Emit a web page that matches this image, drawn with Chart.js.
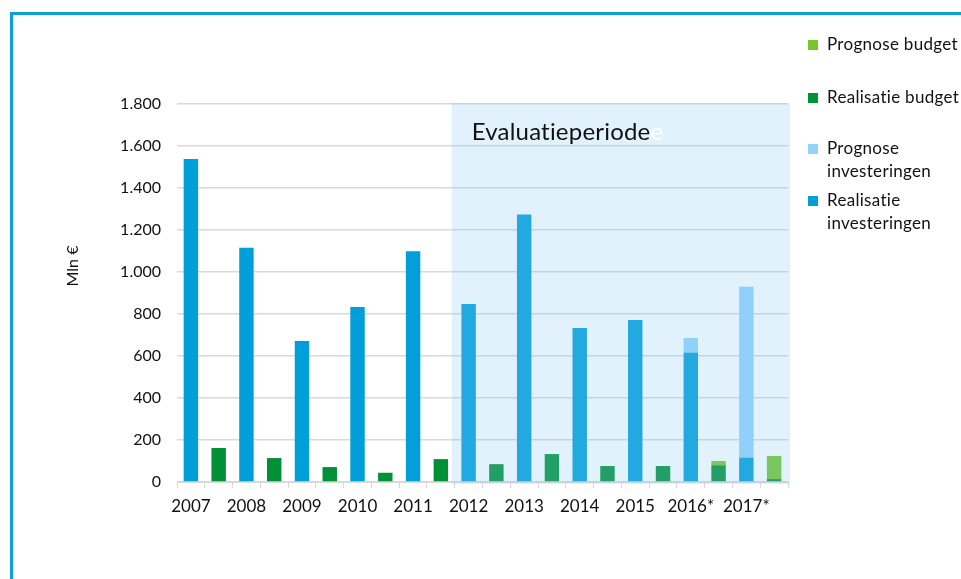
<!DOCTYPE html>
<html><head><meta charset="utf-8">
<script src="https://cdn.jsdelivr.net/npm/chart.js@4/dist/chart.umd.min.js"></script>
<style>html,body{margin:0;padding:0;background:#fff;overflow:hidden}#wrap{position:relative;width:961px;height:579px}canvas{font-variant-ligatures:none}</style>
</head><body><div id="wrap"><canvas id="c" width="961" height="579"></canvas></div>
<script>
const years = ['2007','2008','2009','2010','2011','2012','2013','2014','2015','2016*','2017*'];
const realisatieInvesteringen = [1538, 1115, 672, 833, 1099, 848, 1274, 733, 771, 617, 116];
const prognoseInvesteringen   = [null, null, null, null, null, null, null, null, null, 69, 814];
const realisatieBudget        = [162, 114, 71, 44, 109, 85, 133, 76, 76, 80, 14];
const prognoseBudget          = [null, null, null, null, null, null, null, null, null, 20, 110];
const yTicks = [0, 200, 400, 600, 800, 1000, 1200, 1400, 1600, 1800];
const evalStartYear = '2012';
const evalLabel = 'Evaluatieperiode';

const COL_REAL_INV = '#009FDA';
const COL_PROG_INV = '#92D3FD';
const COL_REAL_BUD = '#009137';
const COL_PROG_BUD = '#76C42E';
const FONT = 'Lato, "Open Sans", sans-serif';

const labels = [];
years.forEach(y => { labels.push(y); labels.push(''); });
function spread(vals, odd) {
  const out = [];
  vals.forEach(v => { if (odd) { out.push(null); out.push(v); } else { out.push(v); out.push(null); } });
  return out;
}
function fmt(v) { return String(v).replace(/\B(?=(\d{3})+(?!\d))/g, '.'); }

const decor = {
  id: 'decor',
  beforeDraw(chart) {
    const ctx = chart.ctx;
    ctx.save();
    ctx.fillStyle = '#fff';
    ctx.fillRect(0, 0, chart.width, chart.height);
    ctx.fillStyle = '#0AA0DA';
    ctx.fillRect(10, 12, 3, chart.height - 12);
    ctx.fillRect(10, 12, chart.width - 10, 3);
    ctx.restore();
  },
  afterDatasetsDraw(chart) {
    const ctx = chart.ctx, x = chart.scales.x, y = chart.scales.y;
    const slot = (x.right - x.left) / labels.length;
    const idx = labels.indexOf(evalStartYear);
    const left = x.getPixelForValue(idx) - slot / 2 - 3;
    const top = y.getPixelForValue(yTicks[yTicks.length - 1]) - 1;
    const right = chart.chartArea.right + 2;
    const bottom = y.getPixelForValue(0) + 2;
    ctx.save();
    ctx.fillStyle = 'rgba(136,203,243,0.25)';
    ctx.fillRect(left, top, right - left, bottom - top);
    ctx.font = '24px ' + FONT;
    if ('letterSpacing' in ctx) ctx.letterSpacing = '0.2px';
    ctx.textBaseline = 'alphabetic';
    ctx.fillStyle = '#111';
    const tx = left + 20, ty = top + 37;
    ctx.fillText(evalLabel, tx, ty);
    const w = ctx.measureText(evalLabel).width;
    ctx.fillStyle = '#ffffff';
    ctx.fillText('e', tx + w, ty);
    ctx.restore();
  },
  afterDraw(chart) {
    const ctx = chart.ctx;
    ctx.save();
    ctx.font = '16px ' + FONT;
    ctx.fillStyle = '#111';
    ctx.textAlign = 'center';
    ctx.textBaseline = 'middle';
    ctx.translate(73, 266);
    ctx.rotate(-Math.PI / 2);
    ctx.fillText('Mln €', 0, 0);
    ctx.restore();
    const items = [
      { c: COL_PROG_BUD, t: ['Prognose budget'], y: 45 },
      { c: COL_REAL_BUD, t: ['Realisatie budget'], y: 98 },
      { c: COL_PROG_INV, t: ['Prognose', 'investeringen'], y: 149 },
      { c: COL_REAL_INV, t: ['Realisatie', 'investeringen'], y: 201 }
    ];
    ctx.save();
    ctx.font = '17px ' + FONT;
    if ('letterSpacing' in ctx) ctx.letterSpacing = '0.3px';
    ctx.textBaseline = 'middle';
    items.forEach(it => {
      ctx.fillStyle = it.c;
      ctx.fillRect(808, it.y - 5, 10, 10);
      ctx.fillStyle = '#111';
      it.t.forEach((line, i) => ctx.fillText(line, 827, it.y + i * 23));
    });
    ctx.restore();
  }
};

new Chart(document.getElementById('c'), {
  type: 'bar',
  data: {
    labels: labels,
    datasets: [
      { label: 'Realisatie investeringen', data: spread(realisatieInvesteringen, false), backgroundColor: COL_REAL_INV },
      { label: 'Prognose investeringen', data: spread(prognoseInvesteringen, false), backgroundColor: COL_PROG_INV },
      { label: 'Realisatie budget', data: spread(realisatieBudget, true), backgroundColor: COL_REAL_BUD },
      { label: 'Prognose budget', data: spread(prognoseBudget, true), backgroundColor: COL_PROG_BUD }
    ]
  },
  options: {
    responsive: false,
    animation: false,
    devicePixelRatio: 1,
    barPercentage: 0.52,
    categoryPercentage: 1,
    layout: { padding: { top: 104, right: 173, bottom: 0, left: 0 } },
    plugins: { legend: { display: false }, tooltip: { enabled: false } },
    scales: {
      x: {
        stacked: true,
        offset: true,
        grid: { offset: true, drawOnChartArea: false, drawTicks: true, tickLength: 6, color: '#d9d9d9' },
        border: { color: '#d9d9d9', width: 1 },
        ticks: { autoSkip: false, maxRotation: 0, minRotation: 0, padding: 8, color: '#111', font: { family: FONT, size: 17 } },
        afterFit: s => { s.height = 97; }
      },
      y: {
        stacked: true,
        min: 0,
        max: 1800,
        afterBuildTicks: s => { s.ticks = yTicks.map(v => ({ value: v })); },
        ticks: { padding: 16, color: '#111', font: { family: FONT, size: 16 }, callback: v => fmt(v) },
        grid: { color: '#d9d9d9', lineWidth: 1.5, drawTicks: false },
        border: { display: false },
        afterFit: s => { s.width = 177; }
      }
    }
  },
  plugins: [decor]
});
</script>
</body></html>
